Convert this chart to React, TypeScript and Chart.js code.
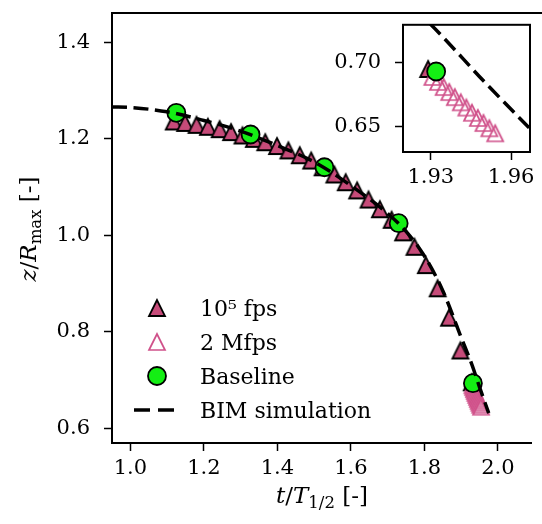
import React, { useEffect, useRef } from 'react';
import { Chart, registerables } from 'chart.js';
Chart.register(...registerables);

const FONT = '"DejaVu Serif", serif';
const FS_TICK = 21;
const FS_LEG = 22;
const FS_TITLE = 23;

// BIM simulation curve
const BIM_T = [0.95, 1.0, 1.1, 1.2, 1.3, 1.4, 1.5, 1.6, 1.7, 1.75, 1.8, 1.85, 1.9, 1.93, 1.95, 1.975];
const BIM_Z = [1.266, 1.265, 1.256, 1.238, 1.216, 1.186, 1.152, 1.103, 1.045, 1.008, 0.957, 0.885, 0.788, 0.730, 0.685, 0.631];

// 10^5 fps measurements
const FPS1_T = [1.118, 1.149, 1.180, 1.211, 1.243, 1.274, 1.305, 1.336, 1.367, 1.399, 1.430, 1.461, 1.492, 1.523,
  1.555, 1.586, 1.617, 1.648, 1.679, 1.711, 1.742, 1.773, 1.804, 1.836, 1.867, 1.898, 1.929];
const FPS1_Z = [1.236, 1.233, 1.229, 1.225, 1.220, 1.214, 1.207, 1.200, 1.193, 1.185, 1.176, 1.166, 1.155, 1.141,
  1.126, 1.110, 1.093, 1.074, 1.054, 1.032, 1.006, 0.976, 0.938, 0.890, 0.829, 0.761, 0.695];

// 2 Mfps measurements
const FPS2_T = [1.9306, 1.9327, 1.9348, 1.9369, 1.9390, 1.9412, 1.9433, 1.9454, 1.9476, 1.9497, 1.9519, 1.9541];
const FPS2_Z = [0.6887, 0.6848, 0.6808, 0.6768, 0.6728, 0.6687, 0.6646, 0.6605, 0.6564, 0.6524, 0.6483, 0.6443];

// Baseline
const BASE_T = [1.125, 1.327, 1.528, 1.730, 1.932];
const BASE_Z = [1.254, 1.209, 1.141, 1.025, 0.693];

const X_TICKS = [1.0, 1.2, 1.4, 1.6, 1.8, 2.0];
const Y_TICKS = [0.6, 0.8, 1.0, 1.2, 1.4];
const INSET_X_TICKS = [1.93, 1.96];
const INSET_Y_TICKS = [0.65, 0.70];
const LEGEND_LABELS = ['10\u2075 fps', '2 Mfps', 'Baseline', 'BIM simulation'];

const PINK = '#c64b79';
const PINK_EDGE = '#d0518a';
const GREEN = '#14ee14';

const pts = (xs: number[], ys: number[]) => xs.map((x, i) => ({ x, y: ys[i] }));

function triCanvas(half: number, fill: string | null, stroke: string, lw: number) {
  const pad = lw + 1;
  const size = Math.ceil(2 * half + 2 * pad);
  const c = document.createElement('canvas');
  c.width = size; c.height = size;
  const ctx = c.getContext('2d')!;
  const cx = size / 2, cy = size / 2;
  ctx.beginPath();
  ctx.moveTo(cx, cy - half);
  ctx.lineTo(cx - half, cy + half);
  ctx.lineTo(cx + half, cy + half);
  ctx.closePath();
  if (fill) { ctx.fillStyle = fill; ctx.fill(); }
  ctx.lineJoin = 'miter';
  ctx.lineWidth = lw; ctx.strokeStyle = stroke; ctx.stroke();
  return c;
}

type Seg = { t: string; it?: boolean; s?: number; dy?: number };
function drawRich(ctx: CanvasRenderingContext2D, segs: Seg[], x: number, y: number, fs: number) {
  const widths = segs.map((g) => {
    ctx.font = `${g.it ? 'italic ' : ''}${fs * (g.s || 1)}px ${FONT}`;
    return ctx.measureText(g.t).width;
  });
  const total = widths.reduce((a, b) => a + b, 0);
  let cx = x - total / 2;
  ctx.textBaseline = 'alphabetic';
  ctx.textAlign = 'left';
  ctx.fillStyle = '#000';
  segs.forEach((g, i) => {
    ctx.font = `${g.it ? 'italic ' : ''}${fs * (g.s || 1)}px ${FONT}`;
    ctx.fillText(g.t, cx, y + (g.dy || 0));
    cx += widths[i];
  });
}

function makeDatasets(triFill: HTMLCanvasElement, triHollow: HTMLCanvasElement) {
  return [
    {
      label: LEGEND_LABELS[3], data: pts(BIM_T, BIM_Z), showLine: true, pointRadius: 0,
      borderColor: '#000', borderWidth: 3.5, borderDash: [15, 6.5], cubicInterpolationMode: 'monotone', order: 0,
    },
    {
      label: LEGEND_LABELS[2], data: pts(BASE_T, BASE_Z), showLine: false, pointStyle: 'circle', pointRadius: 9,
      backgroundColor: GREEN, borderColor: '#000', borderWidth: 1.8, order: 1,
    },
    {
      label: LEGEND_LABELS[1], data: pts(FPS2_T, FPS2_Z), showLine: false, pointStyle: triHollow, pointRadius: 8, order: 2,
    },
    {
      label: LEGEND_LABELS[0], data: pts(FPS1_T, FPS1_Z), showLine: false, pointStyle: triFill, pointRadius: 8, order: 3,
    },
  ];
}

function axisOpts(ticks: number[], digits: number, min: number, max: number, pad: number, fit: (s: any) => void) {
  return {
    type: 'linear', min, max,
    afterBuildTicks: (s: any) => { s.ticks = ticks.map((v) => ({ value: v })); },
    afterFit: (s: any) => {
      fit(s);
      s.paddingTop = 0; s.paddingBottom = 0; s.paddingLeft = 0; s.paddingRight = 0;
    },
    grid: { display: true, drawOnChartArea: false, drawTicks: true, tickLength: 8, tickWidth: 1.5, tickColor: '#000' },
    border: { display: true, color: '#000', width: 2 },
    ticks: { color: '#000', font: { family: FONT, size: FS_TICK }, padding: pad, callback: (v: any) => Number(v).toFixed(digits) },
  };
}

export default function App() {
  const mainRef = useRef<HTMLCanvasElement>(null);
  const insetRef = useRef<HTMLCanvasElement>(null);

  useEffect(() => {
    const triFill = triCanvas(8, PINK, '#000', 1.8);
    const triHollow = triCanvas(8, null, PINK_EDGE, 1.7);

    const mainDecor = {
      id: 'mainDecor',
      afterDraw(chart: any) {
        const { ctx, chartArea: a } = chart;
        ctx.save();
        ctx.strokeStyle = '#000'; ctx.lineWidth = 2;
        ctx.beginPath(); ctx.moveTo(a.left - 1, a.top); ctx.lineTo(chart.width, a.top); ctx.stroke();
        // x title
        drawRich(ctx, [
          { t: 't', it: true }, { t: '/' }, { t: 'T', it: true }, { t: '1/2', s: 0.72, dy: 5 }, { t: ' [-]' },
        ], 322, 503, FS_TITLE);
        // y title
        ctx.save();
        ctx.translate(36, 229);
        ctx.rotate(-Math.PI / 2);
        drawRich(ctx, [
          { t: 'z', it: true }, { t: '/' }, { t: 'R', it: true }, { t: 'max', s: 0.72, dy: 5 }, { t: ' [-]' },
        ], 0, 0, FS_TITLE);
        ctx.restore();
        // legend
        const mx = 157, tx = 200;
        const rows = [308, 342, 376, 410];
        ctx.drawImage(triFill, mx - triFill.width / 2, rows[0] - triFill.height / 2);
        ctx.drawImage(triHollow, mx - triHollow.width / 2, rows[1] - triHollow.height / 2);
        ctx.beginPath(); ctx.arc(mx, rows[2], 9, 0, Math.PI * 2);
        ctx.fillStyle = GREEN; ctx.fill(); ctx.lineWidth = 1.8; ctx.strokeStyle = '#000'; ctx.stroke();
        ctx.save();
        ctx.setLineDash([16, 8]); ctx.lineWidth = 3.5; ctx.strokeStyle = '#000';
        ctx.beginPath(); ctx.moveTo(134, rows[3]); ctx.lineTo(176, rows[3]); ctx.stroke();
        ctx.restore();
        ctx.font = `${FS_LEG}px ${FONT}`;
        ctx.fillStyle = '#000';
        ctx.textAlign = 'left';
        ctx.textBaseline = 'alphabetic';
        LEGEND_LABELS.forEach((l, i) => ctx.fillText(l, tx, rows[i] + 7.5));
        ctx.restore();
      },
    };

    const main = new Chart(mainRef.current!, {
      type: 'scatter',
      data: { datasets: makeDatasets(triFill, triHollow) as any },
      options: {
        animation: false, responsive: false, maintainAspectRatio: false,
        layout: { padding: { top: 13, left: 0, right: 0, bottom: 0 } },
        plugins: { legend: { display: false }, tooltip: { enabled: false } },
        scales: {
          x: axisOpts(X_TICKS, 1, 0.95, 2.0906, 5, (s: any) => { s.height = 81; }) as any,
          y: axisOpts(Y_TICKS, 1, 0.569, 1.461, 14, (s: any) => { s.width = 112; }) as any,
        },
      },
      plugins: [mainDecor],
    });

    const insetDecor = {
      id: 'insetDecor',
      beforeDraw(chart: any) {
        const { ctx, chartArea: a } = chart;
        ctx.save(); ctx.fillStyle = '#fff';
        ctx.fillRect(a.left, a.top, a.right - a.left, a.bottom - a.top);
        ctx.restore();
      },
      afterDraw(chart: any) {
        const { ctx, chartArea: a } = chart;
        ctx.save(); ctx.strokeStyle = '#000'; ctx.lineWidth = 2;
        ctx.strokeRect(a.left, a.top, a.right - a.left, a.bottom - a.top);
        ctx.restore();
      },
    };

    const inset = new Chart(insetRef.current!, {
      type: 'scatter',
      data: { datasets: makeDatasets(triFill, triHollow) as any },
      options: {
        animation: false, responsive: false, maintainAspectRatio: false,
        layout: { padding: { top: 10, left: 0, right: 12, bottom: 0 } },
        plugins: { legend: { display: false }, tooltip: { enabled: false } },
        scales: {
          x: axisOpts(INSET_X_TICKS, 2, 1.9196, 1.9671, 5, (s: any) => { s.height = 38; }) as any,
          y: axisOpts(INSET_Y_TICKS, 2, 0.6296, 0.7298, 14, (s: any) => { s.width = 73; }) as any,
        },
      },
      plugins: [insetDecor],
    });

    return () => { main.destroy(); inset.destroy(); };
  }, []);

  return (
    <div style={{ position: 'fixed', left: 0, top: 0, width: 542, height: 524, background: '#fff' }}>
      <canvas ref={mainRef} width={542} height={524} style={{ position: 'absolute', left: 0, top: 0, width: 542, height: 524 }} />
      <canvas ref={insetRef} width={212} height={176} style={{ position: 'absolute', left: 330, top: 14, width: 212, height: 176 }} />
    </div>
  );
}
